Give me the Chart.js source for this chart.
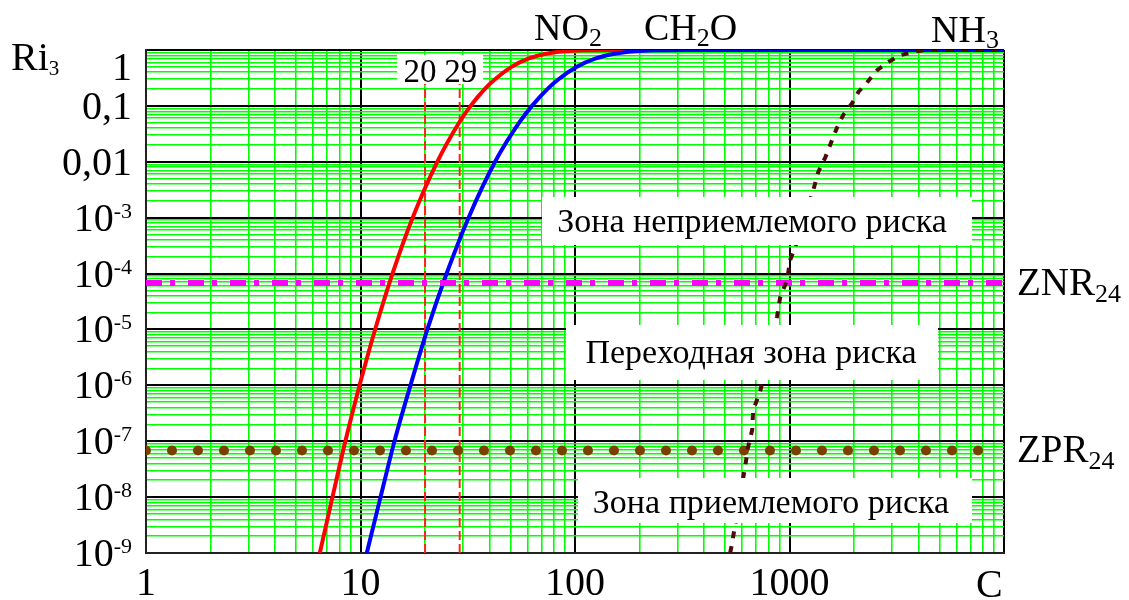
<!DOCTYPE html>
<html><head><meta charset="utf-8">
<script src="https://cdn.jsdelivr.net/npm/chart.js@4.4.1/dist/chart.umd.min.js"></script>
<style>html,body{margin:0;padding:0;background:#fff;} canvas{display:block}</style>
</head><body>
<canvas id="c" width="1129" height="600"></canvas>
<script>
// ---- data ----
const xTickValues = [1, 10, 100, 1000];
const xTickLabels = ['1', '10', '100', '1000'];
const xAxisTitle = 'C';
const yTickValues = [1, 0.1, 0.01, 1e-3, 1e-4, 1e-5, 1e-6, 1e-7, 1e-8, 1e-9];
const yTickBase = ['1', '0,1', '0,01', '10', '10', '10', '10', '10', '10', '10'];
const yTickExp = ['', '', '', '-3', '-4', '-5', '-6', '-7', '-8', '-9'];

const no2C  = [6.46, 7.4, 8.5, 9.9, 11.7, 14.1, 17.5, 22.8, 28.8, 32.6, 37.9, 42.4, 50.6, 60.5, 72.3, 89, 113, 146, 10000];
const no2Ri = [1e-9, 1e-8, 1e-7, 1e-6, 1e-5, 1e-4, 1e-3, 1e-2, 0.05, 0.1, 0.2, 0.3, 0.5, 0.7, 0.85, 0.95, 0.99, 1, 1];

const ch2oC  = [10.7, 12.4, 14.4, 17.1, 20.5, 25.2, 31.9, 42.4, 54.9, 63.0, 74.3, 83.8, 102, 124, 151, 189, 245, 326, 10000];
const ch2oRi = [1e-9, 1e-8, 1e-7, 1e-6, 1e-5, 1e-4, 1e-3, 1e-2, 0.05, 0.1, 0.2, 0.3, 0.5, 0.7, 0.85, 0.95, 0.99, 1, 1];

const nh3C  = [529, 540, 558, 621, 642, 670, 677, 729, 875, 904, 975, 1007, 1064, 1291, 1362, 1469, 1583, 1671, 1782, 1963, 2094, 2307, 2570, 2892, 3290, 3950, 4400, 10000];
const nh3Ri = [1e-9, 1.5e-9, 3.2e-9, 3.5e-8, 8e-8, 1.6e-7, 3.6e-7, 7.6e-7, 1.7e-5, 3.7e-5, 7.7e-5, 1.75e-4, 3e-4, 3.1e-3, 6.6e-3, 0.012, 0.025, 0.042, 0.069, 0.113, 0.177, 0.268, 0.44, 0.61, 0.81, 0.96, 1, 1];

const znrLevel = 6.8e-5;   // ZNR24
const zprLevel = 6.8e-8;   // ZPR24
const markC = [20, 29];
const markLabels = ['20', '29'];

const zoneTexts = ['Зона неприемлемого риска', 'Переходная зона риска', 'Зона приемлемого риска'];

// ---- helpers ----
const FONT = "'Liberation Serif', 'Times New Roman', serif";
const pts = (xs, ys) => xs.map((x, i) => ({x: x, y: ys[i]}));
function decadeTicks(lo, hi) {
  const out = [];
  for (let e = lo; e < hi; e++) for (let m = 1; m <= 9; m++) out.push(+(m * Math.pow(10, e)).toPrecision(3));
  out.push(Math.pow(10, hi));
  return out;
}
const isMajor = v => Math.abs(Math.log10(v) - Math.round(Math.log10(v))) < 1e-6;

function drawParts(ctx, x, y, parts) {
  let cx = x;
  parts.forEach(p => {
    ctx.font = p[1] + 'px ' + FONT;
    ctx.fillText(p[0], cx, y + p[2]);
    cx += ctx.measureText(p[0]).width;
  });
}

const overlay = {
  id: 'overlay',
  afterDatasetsDraw(chart) {
    const ctx = chart.ctx, xs = chart.scales.x;
    ctx.save();
    ctx.fillStyle = '#fff';
    ctx.fillRect(397, 55, 86, 29);
    ctx.fillRect(542, 197, 430, 48);
    ctx.fillRect(566, 325, 372, 55);
    ctx.fillRect(578, 478, 394, 45);
    ctx.fillStyle = '#000';
    ctx.textBaseline = 'alphabetic';
    ctx.textAlign = 'center';
    ctx.font = '33px ' + FONT;
    ctx.fillText(markLabels[0], xs.getPixelForValue(markC[0]) - 5, 82);
    ctx.fillText(markLabels[1], xs.getPixelForValue(markC[1]) + 1, 82);
    ctx.font = '34px ' + FONT;
    ctx.fillText(zoneTexts[0], 752, 232);
    ctx.fillText(zoneTexts[1], 751, 363);
    ctx.fillText(zoneTexts[2], 771, 513);
    ctx.restore();
  },
  afterDraw(chart) {
    const ctx = chart.ctx, ys = chart.scales.y;
    ctx.save();
    ctx.fillStyle = '#000';
    ctx.textBaseline = 'alphabetic';
    const right = 132;
    yTickValues.forEach((v, i) => {
      const py = ys.getPixelForValue(v) + (i === 0 ? 30 : 13);
      ctx.font = '22px ' + FONT;
      const ew = yTickExp[i] ? ctx.measureText(yTickExp[i]).width : 0;
      ctx.textAlign = 'left';
      if (yTickExp[i]) ctx.fillText(yTickExp[i], right - ew, py - 13);
      ctx.textAlign = 'right';
      ctx.font = '40px ' + FONT;
      ctx.fillText(yTickBase[i], right - ew, py);
    });
    ctx.textAlign = 'left';
    ctx.font = '40px ' + FONT;
    ctx.fillText(xAxisTitle, 976, 597);
    drawParts(ctx, 11, 70, [['Ri', 40, 0], ['3', 21, 5]]);
    drawParts(ctx, 534, 40, [['NO', 38, 0], ['2', 26, 6]]);
    drawParts(ctx, 644, 40, [['CH', 38, 0], ['2', 26, 6], ['O', 38, 0]]);
    drawParts(ctx, 931, 42, [['NH', 38, 0], ['3', 26, 6]]);
    drawParts(ctx, 1017, ys.getPixelForValue(znrLevel) + 12, [['ZNR', 39, 0], ['24', 26, 7]]);
    drawParts(ctx, 1017, ys.getPixelForValue(zprLevel) + 11, [['ZPR', 39, 0], ['24', 26, 7]]);
    ctx.restore();
  }
};

const xGrid = decadeTicks(0, 4);
const yGrid = decadeTicks(-9, 0);
const gridOpts = {
  color: c => isMajor(c.tick.value) ? '#000' : '#00ff00',
  lineWidth: c => isMajor(c.tick.value) ? 2 : 1.6,
  drawTicks: false
};

new Chart(document.getElementById('c'), {
  type: 'line',
  data: {
    datasets: [
      {data: pts(nh3C, nh3Ri), borderColor: '#4d0a0a', borderWidth: 4, borderDash: [7, 8], pointRadius: 0, tension: 0, fill: false},
      {data: [{x: 1, y: znrLevel}, {x: 10000, y: znrLevel}], borderColor: '#ff00ff', borderWidth: 6, borderDash: [16, 8, 5, 13], pointRadius: 0, clip: 0},
      {data: pts(ch2oC, ch2oRi), borderColor: '#0000ff', borderWidth: 4, pointRadius: 0, cubicInterpolationMode: 'monotone'},
      {data: pts(no2C, no2Ri), borderColor: '#ff0000', borderWidth: 4, pointRadius: 0, cubicInterpolationMode: 'monotone'},
      {data: [{x: 1, y: zprLevel}, {x: 10000, y: zprLevel}], borderColor: '#7b3f00', borderWidth: 10, borderDash: [0, 26], borderCapStyle: 'round', pointRadius: 0, clip: 0},
      {data: [{x: markC[0], y: 1e-9}, {x: markC[0], y: 0.25}], borderColor: '#ff2020', borderWidth: 2, borderDash: [9, 4], pointRadius: 0},
      {data: [{x: markC[1], y: 1e-9}, {x: markC[1], y: 0.25}], borderColor: '#ff2020', borderWidth: 2, borderDash: [9, 4], pointRadius: 0}
    ]
  },
  options: {
    responsive: false,
    animation: false,
    devicePixelRatio: 1,
    layout: {padding: {left: 0, right: 125, top: 50, bottom: 0}},
    plugins: {legend: {display: false}, tooltip: {enabled: false}},
    scales: {
      x: {
        type: 'logarithmic', min: 1, max: 10000,
        afterBuildTicks: s => { s.ticks = xGrid.map(v => ({value: v, major: isMajor(v)})); },
        afterFit: s => { s.height = 47; },
        grid: gridOpts,
        border: {display: true, color: '#222', width: 2},
        ticks: {
          autoSkip: false, maxRotation: 0, minRotation: 0, padding: 7,
          color: '#000', font: {family: FONT, size: 40},
          callback: v => { const i = xTickValues.findIndex(t => Math.abs(t - v) < 1e-9); return i >= 0 ? xTickLabels[i] : ''; }
        }
      },
      y: {
        type: 'logarithmic', min: 1e-9, max: 1,
        afterBuildTicks: s => { s.ticks = yGrid.map(v => ({value: v, major: isMajor(v)})); },
        afterFit: s => { s.width = 146; },
        grid: gridOpts,
        border: {display: true, color: '#222', width: 2},
        ticks: {display: false}
      }
    }
  },
  plugins: [overlay]
});
</script>
</body></html>
